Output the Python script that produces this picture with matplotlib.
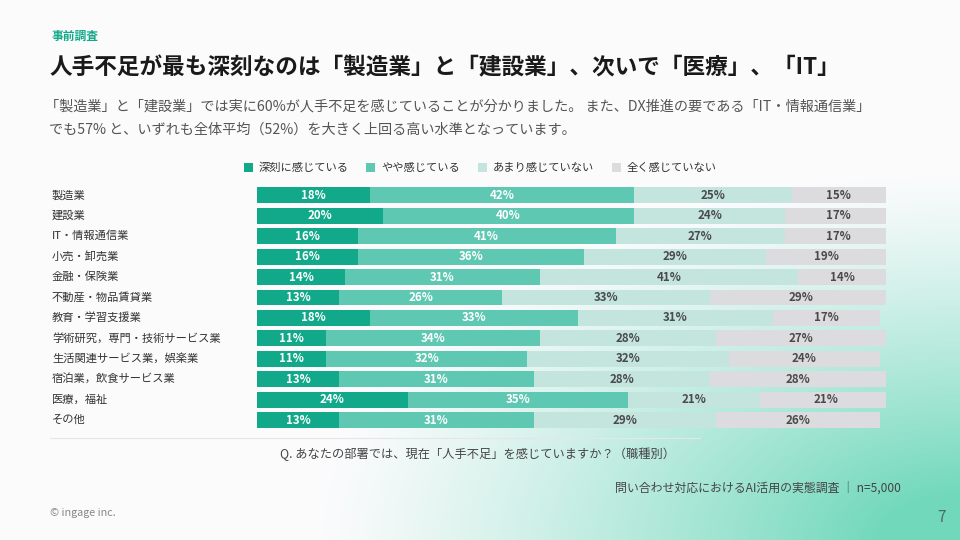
import matplotlib.pyplot as plt
import numpy as np

plt.rcParams['font.family'] = ['Noto Sans CJK JP', 'DejaVu Sans']

# Data
categories = ["製造業", "建設業", "IT・情報通信業", "小売・卸売業", "金融・保険業",
              "不動産・物品賃貸業", "教育・学習支援業", "学術研究，専門・技術サービス業",
              "生活関連サービス業，娯楽業", "宿泊業，飲食サービス業", "医療，福祉", "その他"]
series_names = ["深刻に感じている", "やや感じている", "あまり感じていない", "全く感じていない"]
strong = [18, 20, 16, 16, 14, 13, 18, 11, 11, 13, 24, 13]
somewhat = [42, 40, 41, 36, 31, 26, 33, 34, 32, 31, 35, 31]
not_much = [25, 24, 27, 29, 41, 33, 31, 28, 32, 28, 21, 29]
not_at_all = [15, 17, 17, 19, 14, 29, 17, 27, 24, 28, 21, 26]

colors = ["#12a98a", "#5fc8b2", "#c4e5de", "#dcdcde"]
text_colors = ["white", "white", "#4a4a4a", "#4a4a4a"]

fig = plt.figure(figsize=(9.6, 5.4), dpi=100)

# background gradient (teal toward bottom right)
bg = fig.add_axes([0, 0, 1, 1], zorder=-10)
h, w = 540, 960
yy, xx = np.mgrid[0:h, 0:w]
d = np.sqrt(((w - xx) / 560.0) ** 2 + ((h - yy) / 320.0) ** 2)
t = np.clip(1.15 - d, 0, 1) ** 1.2
white = np.array([0.985, 0.985, 0.99])
teal = np.array([0.45, 0.85, 0.74])
img = white[None, None, :] * (1 - t[..., None]) + teal[None, None, :] * t[..., None]
bg.imshow(img, aspect='auto', extent=[0, 1, 0, 1], origin='upper')
bg.axis('off')

# chart
ax = fig.add_axes([257 / 960, 1 - 430.5 / 540, 629 / 960, 245.5 / 540])
y = np.arange(len(categories))
left = np.zeros(len(categories))
for vals, name, c, tc in zip([strong, somewhat, not_much, not_at_all], series_names, colors, text_colors):
    vals = np.array(vals)
    ax.barh(y, vals, left=left, height=0.78, color=c, label=name)
    for yi, (l, v) in enumerate(zip(left, vals)):
        ax.text(l + v / 2, yi, f"{v}%", ha='center', va='center', color=tc,
                fontsize=8.3, fontweight='bold')
    left += vals

ax.set_xlim(0, 100)
ax.set_ylim(len(categories) - 0.5, -0.5)
ax.axis('off')

for yi, cat in enumerate(categories):
    fy = 1 - (195 + yi * 20.45) / 540
    fig.text(52 / 960, fy, cat, ha='left', va='center', fontsize=8.1, color='#333333')

leg = fig.legend(loc='center', bbox_to_anchor=(0.5, 1 - 168 / 540), ncol=4, frameon=False,
                 fontsize=8.1, handlelength=0.8, handleheight=0.8, handletextpad=0.5,
                 columnspacing=1.6)
for txt in leg.get_texts():
    txt.set_color('#333333')

# headings
fig.text(52 / 960, 1 - 36 / 540, "事前調査", fontsize=8.5, fontweight='bold', color='#12a98a', va='center')
fig.text(50 / 960, 1 - 68 / 540, "人手不足が最も深刻なのは「製造業」と「建設業」、次いで「医療」、「IT」",
         fontsize=16.3, fontweight='bold', color='#1a1a1a', va='center')
fig.text(45 / 960, 1 - 107 / 540,
         "「製造業」と「建設業」では実に60%が人手不足を感じていることが分かりました。 また、DX推進の要である「IT・情報通信業」",
         fontsize=10.2, color='#555555', va='center')
fig.text(49 / 960, 1 - 130 / 540, "でも57% と、いずれも全体平均（52%）を大きく上回る高い水準となっています。",
         fontsize=10.2, color='#555555', va='center')

# separator and footer
fig.add_artist(plt.Line2D([50 / 960, 700 / 960], [1 - 438 / 540, 1 - 438 / 540], color='#e6e6e6', lw=0.8))
fig.text(477 / 960, 1 - 454 / 540, "Q. あなたの部署では、現在「人手不足」を感じていますか？（職種別）",
         ha='center', va='center', fontsize=8.8, color='#444444')
fig.text(901 / 960, 1 - 489 / 540, "問い合わせ対応におけるAI活用の実態調査 ｜ n=5,000",
         ha='right', va='center', fontsize=8.6, color='#444444')
fig.text(50 / 960, 1 - 513 / 540, "© ingage inc.", ha='left', va='center', fontsize=7.8, color='#888888')
fig.text(946 / 960, 1 - 517 / 540, "7", ha='right', va='center', fontsize=11, color='#4a6a66')

plt.savefig("out.png", dpi=100)
